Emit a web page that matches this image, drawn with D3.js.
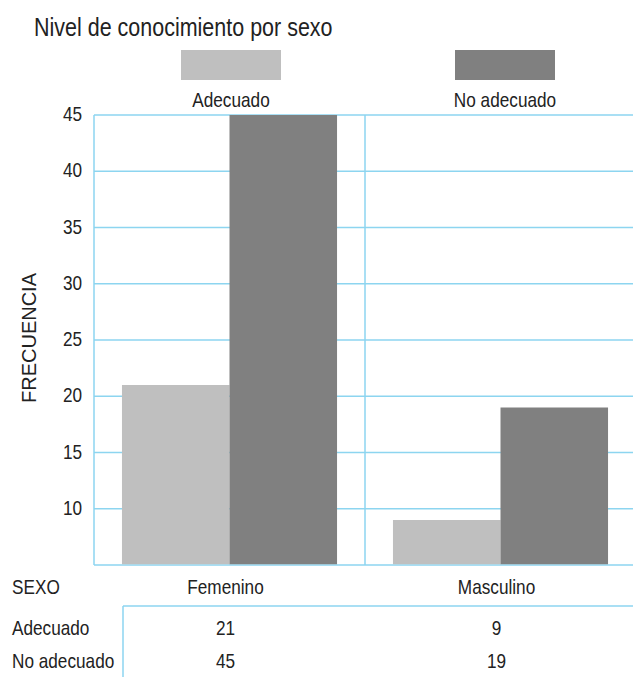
<!DOCTYPE html>
<html>
<head>
<meta charset="utf-8">
<script src="https://cdn.jsdelivr.net/npm/d3@7"></script>
<style>
  body { margin: 0; background: #fff; }
  svg text { font-family: "Liberation Sans", Arial, sans-serif; fill: #222; }
</style>
</head>
<body>
<svg width="633" height="677"></svg>
<script>
const categories = ["Femenino", "Masculino"];
const series = ["Adecuado", "No adecuado"];
const adecuado = [21, 9];
const noAdecuado = [45, 19];
const yTicks = [10, 15, 20, 25, 30, 35, 40, 45];

const colors = ["#bfbfbf", "#808080"];
const gridColor = "#8dd5f0";

const svg = d3.select("svg");

// narrow-looking text (the original uses a condensed face)
function label(px, py, txt, size, anchor, rot, sx) {
  return svg.append("text")
    .attr("transform", "translate(" + px + "," + py + ")" + (rot ? " rotate(" + rot + ")" : "") + " scale(" + (sx || 0.86) + ",1)")
    .attr("text-anchor", anchor || "start")
    .style("font-size", size + "px")
    .text(txt);
}

// plot area
const plotLeft = 94, plotRight = 636, plotTop = 115, plotBottom = 565;

const x = d3.scaleBand().domain(categories).range([plotLeft, plotRight]).paddingInner(0).paddingOuter(0);
const xs = d3.scaleBand().domain(series).range([0, x.bandwidth()]).paddingOuter(0.26).paddingInner(0);
const y = d3.scaleLinear().domain([5, 45]).range([plotBottom, plotTop]);

// title
label(34, 36, "Nivel de conocimiento por sexo", 25);

// legend
const legendX = [231, 505];
series.forEach((s, i) => {
  svg.append("rect").attr("x", legendX[i] - 50).attr("y", 50).attr("width", 100).attr("height", 30).attr("fill", colors[i]);
  label(legendX[i], 107, s, 20, "middle");
});

// grid lines (under the bars)
svg.selectAll(".hgrid").data([5].concat(yTicks)).join("line")
  .attr("x1", plotLeft).attr("x2", plotRight)
  .attr("y1", d => y(d)).attr("y2", d => y(d))
  .attr("stroke", gridColor).attr("stroke-width", 1.5);
svg.selectAll(".vgrid").data([plotLeft, x("Masculino"), plotRight - 1]).join("line")
  .attr("x1", d => d).attr("x2", d => d)
  .attr("y1", plotTop).attr("y2", plotBottom)
  .attr("stroke", gridColor).attr("stroke-width", 1.5);

// bars
const rows = categories.map((c, i) => ({cat: c, vals: [adecuado[i], noAdecuado[i]]}));
const g = svg.append("g");
rows.forEach(r => {
  g.selectAll(null).data(r.vals).join("rect")
    .attr("x", (d, i) => x(r.cat) + xs(series[i]))
    .attr("y", d => y(d))
    .attr("width", xs.bandwidth())
    .attr("height", d => y(5) - y(d) - 0.75)
    .attr("fill", (d, i) => colors[i]);
});

// y tick labels
yTicks.forEach(t => label(82, y(t) + 6, t, 20, "end"));

// y axis title
label(36, 338, "FRECUENCIA", 20, "middle", -90, 1);

// data table
label(12, 594, "SEXO", 20);
categories.forEach(c => label(x(c) + x.bandwidth() / 2 - 4, 594, c, 20, "middle"));
svg.append("line").attr("x1", 123).attr("x2", 633).attr("y1", 606).attr("y2", 606).attr("stroke", gridColor).attr("stroke-width", 1.5);
svg.append("line").attr("x1", 123).attr("x2", 123).attr("y1", 606).attr("y2", 677).attr("stroke", gridColor).attr("stroke-width", 1.5);

const tableRows = [adecuado, noAdecuado];
const rowY = [635, 668];
series.forEach((s, i) => {
  label(12, rowY[i], s, 20);
  tableRows[i].forEach((d, j) => label(x(categories[j]) + x.bandwidth() / 2 - 4, rowY[i], d, 20, "middle"));
});
</script>
</body>
</html>
